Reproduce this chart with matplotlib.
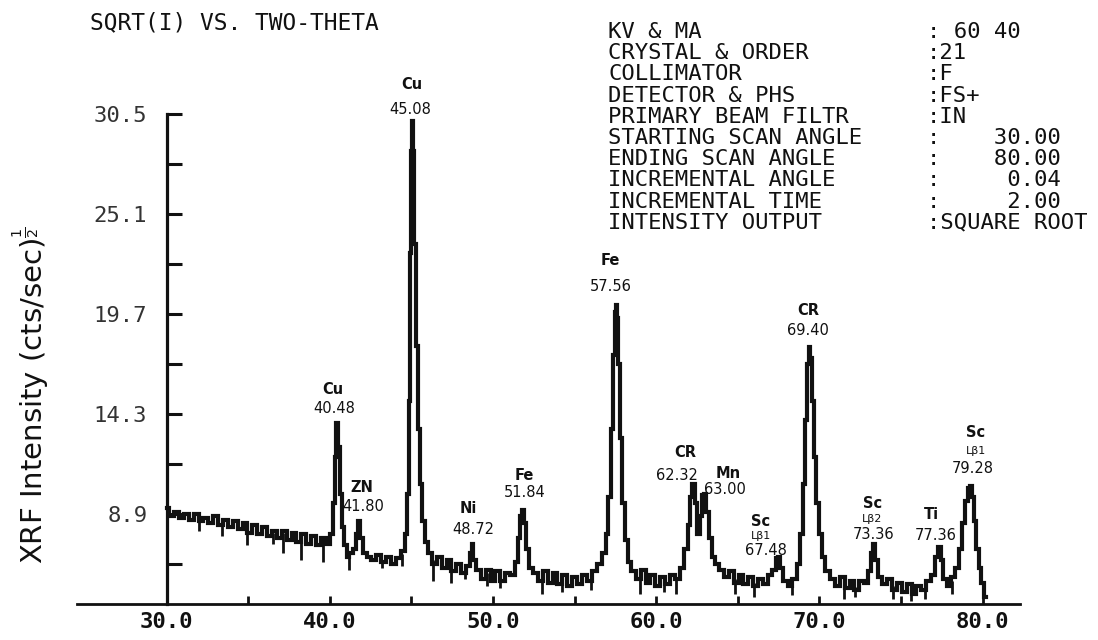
import numpy as np
import matplotlib
matplotlib.use('Agg')
import matplotlib.pyplot as plt

# ── scan data: two-theta (deg) vs sqrt(intensity) ──
scan_deg = [
    30.0, 30.3, 30.6, 30.9, 31.2, 31.5, 31.8, 32.1, 32.4, 32.7, 33.0, 33.3,
    33.6, 33.9, 34.2, 34.5, 34.8, 35.1, 35.4, 35.7, 36.0, 36.3, 36.6, 36.9,
    37.2, 37.5, 37.8, 38.1, 38.4, 38.7, 39.0, 39.3, 39.6, 39.9,
    40.1, 40.25, 40.35, 40.45, 40.55, 40.65, 40.8, 40.95, 41.1, 41.3, 41.5,
    41.65, 41.8, 41.95, 42.1, 42.4, 42.7, 43.0, 43.3, 43.6, 43.9, 44.2, 44.5,
    44.65, 44.78, 44.88, 44.97, 45.03, 45.08, 45.14, 45.22, 45.32, 45.45,
    45.6, 45.75, 45.9, 46.1, 46.4, 46.7, 47.0, 47.3, 47.6, 47.9, 48.2, 48.5,
    48.65, 48.72, 48.85, 49.1, 49.4, 49.7, 50.0, 50.3, 50.6, 50.9, 51.2,
    51.45, 51.6, 51.75, 51.84, 51.95, 52.1, 52.3, 52.6, 52.9, 53.2, 53.5,
    53.8, 54.1, 54.4, 54.7, 55.0, 55.3, 55.6, 55.9, 56.2, 56.5, 56.8, 57.0,
    57.15, 57.28, 57.4, 57.5, 57.56, 57.63, 57.72, 57.85, 58.0, 58.15, 58.35,
    58.6, 58.9, 59.2, 59.5, 59.8, 60.1, 60.4, 60.7, 61.0, 61.3, 61.6, 61.85,
    62.0, 62.15, 62.3, 62.45, 62.6, 62.75, 62.9, 63.0, 63.15, 63.3, 63.5,
    63.75, 64.0, 64.3, 64.6, 64.9, 65.2, 65.5, 65.8, 66.1, 66.4, 66.7, 67.0,
    67.25, 67.4, 67.5, 67.65, 67.9, 68.2, 68.5, 68.7, 68.9, 69.05, 69.18,
    69.3, 69.4, 69.5, 69.62, 69.75, 69.9, 70.05, 70.25, 70.5, 70.8, 71.1,
    71.4, 71.7, 72.0, 72.3, 72.6, 72.9, 73.1, 73.25, 73.36, 73.5, 73.7, 74.0,
    74.3, 74.6, 74.9, 75.2, 75.5, 75.8, 76.1, 76.4, 76.7, 77.0, 77.2, 77.36,
    77.5, 77.7, 77.95, 78.2, 78.45, 78.65, 78.85, 79.05, 79.2, 79.28, 79.4,
    79.55, 79.7, 79.85, 80.0, 80.2,
]
sqrt_cps = [
    9.2, 8.8, 9.0, 8.7, 8.9, 8.6, 8.9, 8.5, 8.7, 8.4, 8.8, 8.3,
    8.6, 8.2, 8.5, 8.1, 8.4, 7.9, 8.3, 7.8, 8.2, 7.7, 8.0, 7.6,
    8.0, 7.5, 7.9, 7.4, 7.8, 7.3, 7.7, 7.2, 7.6, 7.3,
    7.8, 9.5, 12.0, 13.8, 12.5, 10.0, 8.2, 7.2, 6.6, 6.8, 7.0,
    7.8, 8.5, 7.6, 6.8, 6.6, 6.4, 6.7, 6.3, 6.6, 6.2, 6.5, 6.9,
    7.8, 10.0, 15.0, 23.0, 28.5, 30.1, 28.5, 23.5, 18.0, 13.5,
    10.5, 8.5, 7.4, 6.8, 6.2, 6.6, 6.0, 6.4, 5.8, 6.2, 5.7, 6.1,
    6.8, 7.3, 6.4, 5.9, 5.4, 5.9, 5.3, 5.8, 5.3, 5.7, 5.6,
    6.3, 7.6, 8.8, 9.1, 8.4, 7.0, 6.0, 5.7, 5.3, 5.8, 5.2,
    5.7, 5.1, 5.6, 5.0, 5.5, 5.1, 5.6, 5.3, 5.8, 6.2, 6.8, 7.8,
    9.8, 13.5, 17.5, 19.8, 20.2, 19.5, 17.0, 13.0, 9.5, 7.5, 6.3,
    5.8, 5.4, 5.9, 5.2, 5.6, 5.0, 5.5, 5.1, 5.6, 5.4, 6.0, 7.0,
    8.3, 9.8, 10.5, 9.5, 7.8, 8.8, 9.9, 10.0, 9.0, 7.6, 6.6,
    6.2, 5.9, 5.5, 5.8, 5.2, 5.6, 5.1, 5.5, 5.0, 5.4, 5.1, 5.6,
    5.9, 6.5, 6.6, 6.0, 5.3, 5.0, 5.4, 6.2, 7.8, 10.5, 14.0,
    17.0, 17.9, 17.3, 15.0, 12.0, 9.5, 7.8, 6.6, 5.8, 5.4, 5.0,
    5.5, 4.9, 5.3, 4.8, 5.3, 5.2, 5.8, 6.8, 7.3, 6.4, 5.5, 5.1,
    5.4, 4.8, 5.2, 4.7, 5.1, 4.6, 5.0, 4.8, 5.3, 5.6, 6.6, 7.1,
    6.4, 5.4, 5.0, 5.5, 6.0, 7.0, 8.4, 9.6, 10.3, 10.4, 9.8,
    8.5, 7.0, 6.0, 5.2, 4.4,
]

# dropout spikes hanging under the noisy baseline
spike_deg = [32.0, 33.4, 34.9, 36.5, 37.1, 38.2, 39.6, 41.2, 43.2, 44.4,
             46.3, 47.4, 48.3, 49.6, 50.4, 53.0, 54.2, 56.0, 59.0, 60.5,
             61.2, 64.8, 66.0, 68.3, 71.5, 72.2, 74.5, 75.6, 76.5, 78.1]
spike_low = [8.0, 7.7, 7.2, 7.3, 6.8, 6.4, 6.3, 5.9, 6.0, 6.1,
             5.3, 5.2, 5.4, 5.0, 4.9, 4.6, 4.7, 4.8, 4.6, 4.7,
             4.6, 4.6, 4.4, 4.5, 4.3, 4.4, 4.3, 4.2, 4.3, 4.6]

# hand-written peak identifications
peak_element = ['Cu', 'ZN', 'Cu', 'Ni', 'Fe', 'Fe', 'CR', 'Mn',
                'Sc', 'CR', 'Sc', 'Ti', 'Sc']
peak_line = ['', '', '', '', '', '', '', '', 'Lβ1', '', 'Lβ2', '', 'Lβ1']
peak_angle = ['40.48', '41.80', '45.08', '48.72', '51.84', '57.56', '62.32',
              '63.00', '67.48', '69.40', '73.36', '77.36', '79.28']

yticks_major = [8.9, 14.3, 19.7, 25.1, 30.5]
yticks_minor = [6.2, 11.6, 17.0, 22.4, 27.8]
xticks_major = [30, 40, 50, 60, 70, 80]
xticks_minor = [35, 45, 55, 65, 75]

param_names = ['KV & MA', 'CRYSTAL & ORDER', 'COLLIMATOR', 'DETECTOR & PHS',
               'PRIMARY BEAM FILTR', 'STARTING SCAN ANGLE', 'ENDING SCAN ANGLE',
               'INCREMENTAL ANGLE', 'INCREMENTAL TIME', 'INTENSITY OUTPUT']
param_values = [': 60 40', ':21', ':F', ':FS+', ':IN', ':    30.00',
                ':    80.00', ':     0.04', ':     2.00', ':SQUARE ROOT']

# ── label placement (layout only) ──
# (x of element, y of element, x of angle, y of angle)
label_pos = [
    (40.2, 15.6, 40.25, 14.6),
    (41.95, 10.35, 42.05, 9.3),
    (45.0, 32.1, 44.9, 30.75),
    (48.5, 9.2, 48.8, 8.05),
    (51.9, 11.0, 51.95, 10.05),
    (57.2, 22.6, 57.2, 21.2),
    (61.8, 12.2, 61.3, 11.0),
    (64.4, 11.1, 64.2, 10.2),
    (66.4, 8.5, 66.7, 6.95),
    (69.3, 19.9, 69.3, 18.8),
    (73.25, 9.45, 73.3, 7.8),
    (76.9, 8.85, 77.1, 7.75),
    (79.6, 13.3, 79.4, 11.35),
]

MONO = 'DejaVu Sans Mono'
INK = '#111111'

fig = plt.figure(figsize=(10.98, 6.40), dpi=100)
fig.patch.set_facecolor('white')
ax = fig.add_axes([0.0701, 0.05625, 0.8589, 0.94375])
ax.set_xlim(24.5, 82.3)
ax.set_ylim(4.04, 36.66)

# trace
ax.plot(scan_deg, sqrt_cps, color=INK, lw=3.0, drawstyle='steps-mid',
        solid_joinstyle='miter', zorder=3)
ax.vlines(spike_deg, spike_low, np.interp(spike_deg, scan_deg, sqrt_cps),
          color=INK, lw=2.0, zorder=3)

# axes lines
for s in ['top', 'right']:
    ax.spines[s].set_visible(False)
ax.spines['left'].set_position(('data', 30))
ax.spines['left'].set_bounds(4.04, 30.5)
ax.spines['left'].set_linewidth(2.3)
ax.spines['bottom'].set_linewidth(2.0)
ax.spines['left'].set_color(INK)
ax.spines['bottom'].set_color(INK)

ax.set_yticks(yticks_major)
ax.set_yticks(yticks_minor, minor=True)
ax.set_yticklabels([f'{v:.1f}' for v in yticks_major], family=MONO,
                   fontsize=16, color='#333333')
ax.tick_params(axis='y', which='both', direction='in', length=11, width=2.2,
               color=INK, pad=14)

ax.set_xticks(xticks_major)
ax.set_xticks(xticks_minor, minor=True)
ax.set_xticklabels([f'{v:.1f}' for v in xticks_major], family=MONO,
                   fontsize=16, fontweight='bold', color=INK)
ax.tick_params(axis='x', which='both', direction='in', length=6, width=2.0,
               color=INK, pad=6)

# peak labels
for i, (ex, ey, ax_, ay) in enumerate(label_pos):
    ax.text(ex, ey, peak_element[i], ha='center', va='center', fontsize=10.5,
            fontweight='bold', color=INK)
    if peak_line[i]:
        ax.text(ex, (ey + ay) / 2, peak_line[i], ha='center', va='center',
                fontsize=8, color=INK)
    ax.text(ax_, ay, peak_angle[i], ha='center', va='center', fontsize=10.5,
            color=INK)

# header texts
fig.text(90 / 1098, 1 - 23 / 640, 'SQRT(I) VS. TWO-THETA', family=MONO,
         fontsize=16.5, ha='left', va='center', color=INK)
block_top = 1 - 22 / 640
fig.text(608 / 1098, block_top, '\n'.join(param_names), family=MONO,
         fontsize=16, ha='left', va='top', color=INK, linespacing=1.075)
fig.text(927 / 1098, block_top, '\n'.join(param_values), family=MONO,
         fontsize=16, ha='left', va='top', color=INK, linespacing=1.075)

fig.text(31 / 1098, 1 - 395 / 640, r'XRF Intensity (cts/sec)$^{\frac{1}{2}}$',
         rotation=90, ha='center', va='center', fontsize=21, color=INK)

fig.savefig('out.png', dpi=100, facecolor='white')
